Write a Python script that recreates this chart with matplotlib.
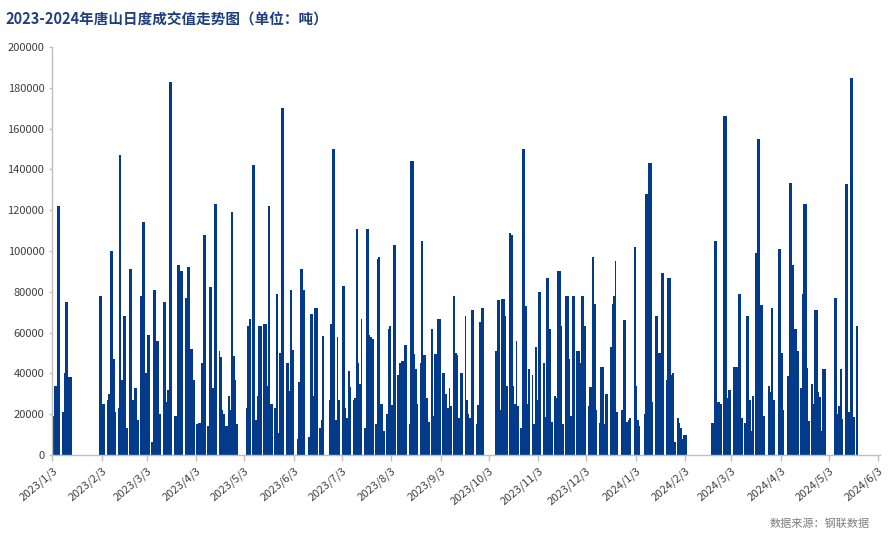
import pandas as pd
import matplotlib
matplotlib.use("Agg")
import matplotlib.pyplot as plt
import matplotlib.dates as mdates

plt.rcParams['font.family'] = ['Noto Sans CJK SC', 'DejaVu Sans']

# Daily volume in thousand tonnes, one row per week (Mon..Sun), None = no data
week_starts = [
    "2023-01-02", "2023-01-09", "2023-01-30", "2023-02-06", "2023-02-13",
    "2023-02-20", "2023-02-27", "2023-03-06", "2023-03-13", "2023-03-20",
    "2023-03-27", "2023-04-03", "2023-04-10", "2023-04-17", "2023-04-24",
    "2023-05-01", "2023-05-08", "2023-05-15", "2023-05-22", "2023-05-29",
    "2023-06-05", "2023-06-12", "2023-06-19", "2023-06-26", "2023-07-03",
    "2023-07-10", "2023-07-17", "2023-07-24", "2023-07-31", "2023-08-07",
    "2023-08-14", "2023-08-21", "2023-08-28", "2023-09-04", "2023-09-11",
    "2023-09-18", "2023-09-25", "2023-10-02", "2023-10-09", "2023-10-16",
    "2023-10-23", "2023-10-30", "2023-11-06", "2023-11-13", "2023-11-20",
    "2023-11-27", "2023-12-04", "2023-12-11", "2023-12-18", "2023-12-25",
    "2024-01-01", "2024-01-08", "2024-01-15", "2024-01-22", "2024-01-29",
    "2024-02-19", "2024-02-26", "2024-03-04", "2024-03-11", "2024-03-18",
    "2024-03-25", "2024-04-01", "2024-04-08", "2024-04-15", "2024-04-22",
    "2024-04-29", "2024-05-06", "2024-05-13", "2024-05-20",
]
week_values = [
    [None, 19, 34, 34, 122, 122, None],
    [21, 40, 75, 75, 38, 38, None],
    [None, None, 78, 78, 25, 25, None],
    [27, 30, 100, 100, 47, 21, None],
    [23, 147, 37, 68, 68, 13, None],
    [91, 91, 27, 33, 33, 17, None],
    [78, 114, 114, 40, 59, 59, None],
    [6.5, 81, 81, 56, 56, 20, None],
    [75, 75, 26, 32, 183, 183, None],
    [19, 19, 93, 93, 90, 90, None],
    [77, 92, 92, 52, 52, 37, None],
    [15, 15.5, 15.5, 45, 108, 108, None],
    [14, 82.5, 82.5, 33, 123, 123, None],
    [51, 48, 22, 20, 14, 14, 29],
    [22, 119, 48.5, 37, 15, None, None],
    [None, None, None, 23, 63, 66.5, None],
    [142, 142, 17, 29, 63, 63, None],
    [64, 64, 34, 122, 25, 25, None],
    [23, 79, 11, 50, 170, 170, None],
    [45, 45, 31.5, 81, 51.5, None, None],
    [8, 36, 91, 91, 81, None, None],
    [9, 69, 69, 29, 72, 72, None],
    [13, 17, 58.5, None, None, None, 27],
    [64, 150, 150, 17, 58, 27, None],
    [83, 83, 23, 18, 41, 33.5, None],
    [27, 28, 111, 45, 35, 66.5, None],
    [13, 111, 111, 59, 58, 57, None],
    [15, 96, 97, 25, 25, 12, None],
    [20, 62, 63, 24.5, 103, 103, None],
    [39, 45, 46, 46, 54, 54, None],
    [15, 144, 144, 49.5, 42, 25, None],
    [45, 105, 49, 49, 28, 16, None],
    [62, 19, 49.5, 49.5, 66.5, 66.5, None],
    [40, 40, 30, 23, 33, 24, None],
    [78, 50, 49, 18, 40, 40, None],
    [68, 27, 20, 18, 71, 71, None],
    [15, 24.5, 65, 72, 72, None, None],
    [None, None, None, None, None, 51, 76],
    [76, 22, 76.5, 76.5, 68, 34, None],
    [109, 108, 34, 25, 56, 24, None],
    [13, 150, 150, 73, 25, 42, None],
    [39, 15, 53, 27, 80, 80, None],
    [45, 18.5, 87, 87, 62, 16, None],
    [29, 28, 90, 90, 63, 15, None],
    [78, 78, 47, 19, 78, 78, None],
    [51, 51, 45, 78, 78, 63, None],
    [24, 33.5, 33.5, 97, 74, 22, None],
    [15.5, 43, 43, 15, 30, 30, None],
    [53, 74, 78, 95, 21, None, None],
    [22, 66, 66, 16, 17, 18, None],
    [None, 102, 34, 17, 14, None, None],
    [20, 128, 128, 143, 143, 26, None],
    [68, 68, 50, 50, 89, 89, None],
    [37, 87, 87, 39, 40, 6.5, None],
    [18, 15.5, 13, 8, 10, 10, None],
    [15.5, 15.5, 105, 105, 26, 26, 25],
    [None, 166, 166, 28, 32, 32, None],
    [43, 43, 43, 79, 79, 18, None],
    [15.5, 68, 68, 27, 12, 29, None],
    [99, 155, 155, 73.5, 73.5, 19, None],
    [None, 34, 31, 72, 27, None, None],
    [101, 101, 50, 22, None, None, 38.7],
    [133.5, 133.5, 93, 62, 62, 51, None],
    [33, 79, 123, 123, 42.5, 16.5, None],
    [35, 25, 71, 71, 31, 28.6, 12],
    [42, 42, None, None, None, None, None],
    [77, 77, 20, 24, 42, 17.5, None],
    [133, 133, 21, 185, 185, 18.5, None],
    [63, None, None, None, None, None, None],
]

tick_labels = [
    "2023/1/3", "2023/2/3", "2023/3/3", "2023/4/3", "2023/5/3", "2023/6/3",
    "2023/7/3", "2023/8/3", "2023/9/3", "2023/10/3", "2023/11/3", "2023/12/3",
    "2024/1/3", "2024/2/3", "2024/3/3", "2024/4/3", "2024/5/3", "2024/6/3",
]

dates, values = [], []
for start, vals in zip(week_starts, week_values):
    for i, v in enumerate(vals):
        if v is not None:
            dates.append(pd.Timestamp(start) + pd.Timedelta(days=i))
            values.append(v * 1000)

bar_color = "#033A8A"
axis_gray = "#BFBFBF"

fig = plt.figure(figsize=(8.91, 5.44), dpi=100)
ax = fig.add_axes([0.0584, 0.1636, 0.9296, 0.75])

ax.bar(mdates.date2num(dates), values, width=1.05, align="edge",
       color=bar_color, linewidth=0)

tick_pos = mdates.date2num([pd.Timestamp(t.replace("/", "-")) for t in tick_labels])
ax.set_xticks(tick_pos)
ax.set_xticklabels(tick_labels, rotation=40, ha="right", rotation_mode="anchor",
                   fontsize=8, color="#404040")
ax.set_xlim(tick_pos[0] - 0.2, tick_pos[-1] + 1.2)

ax.set_ylim(0, 200000)
ax.set_yticks(range(0, 200001, 20000))
ax.set_yticklabels([str(v) for v in range(0, 200001, 20000)], fontsize=8, color="#404040")

for side in ["top", "right"]:
    ax.spines[side].set_visible(False)
for side in ["left", "bottom"]:
    ax.spines[side].set_color(axis_gray)
    ax.spines[side].set_linewidth(1)
ax.tick_params(axis="both", colors=axis_gray, length=4, width=1, labelcolor="#404040")
ax.tick_params(axis="y", length=2)

fig.text(0.006, 0.978, "2023-2024年唐山日度成交值走势图（单位：吨）",
         fontsize=10.5, fontweight="bold", color="#1F3F7F", va="top", ha="left")
fig.text(0.976, 0.028, "数据来源：钢联数据", fontsize=8, color="#7F7F7F",
         ha="right", va="bottom")

fig.savefig("out.png", dpi=100)
